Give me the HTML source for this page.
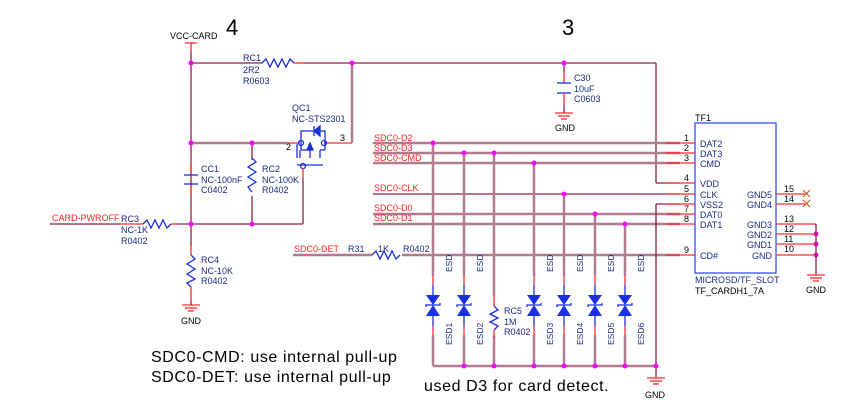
<!DOCTYPE html>
<html><head><meta charset="utf-8"><style>
body{margin:0;background:#fff}
svg{display:block}
text{font-family:"Liberation Sans",sans-serif}
.w{stroke:#8a1d4c;stroke-width:1.3;fill:none}
.wl{stroke:#b07a90;stroke-width:2.5;fill:none}
.p{stroke:#ff2a2a;stroke-width:1.3;fill:none}
.c{stroke:#1a2fe0;stroke-width:1.3;fill:none}
.lb{fill:#1a2a80;font-size:9px}
.nl{fill:#ff2020;font-size:9px}
.bk{fill:#000;font-size:9px}
.n{fill:#ff00ff}
.note{font-size:16px;letter-spacing:0.6px;fill:#000}
</style></head><body>
<svg width="862" height="409" viewBox="0 0 862 409" xmlns="http://www.w3.org/2000/svg">
<text x="226" y="35" style="font-size:22px" fill="#000">4</text>
<text x="562" y="35" style="font-size:22px" fill="#000">3</text>
<text x="170" y="39" class="bk">VCC-CARD</text>
<line x1="185" y1="43" x2="197" y2="43" class="p"/>
<line x1="191" y1="43" x2="191" y2="52" class="p"/>
<line x1="191" y1="52" x2="191" y2="282" class="w"/>
<line x1="191" y1="63" x2="262" y2="63" class="w"/>
<polyline class="c" points="262,63 266,59 270,67 274,59 278,67 282,59 286,67 290,59 294,63"/>
<line x1="294" y1="63" x2="304" y2="63" class="p"/>
<line x1="304" y1="63" x2="656" y2="63" class="w"/>
<text x="243" y="61" class="lb">RC1</text><text x="243" y="73" class="lb">2R2</text><text x="243" y="84" class="lb">R0603</text>
<line x1="352" y1="63" x2="352" y2="143" class="wl"/>
<line x1="656" y1="63" x2="656" y2="183" class="w"/>
<line x1="656" y1="183" x2="680" y2="183" class="w"/>
<line x1="564" y1="63" x2="564" y2="72" class="w"/>
<line x1="564" y1="72" x2="564" y2="83" class="p"/>
<line x1="557" y1="83" x2="571" y2="83" class="c"/><line x1="557" y1="93" x2="571" y2="93" class="c"/>
<line x1="564" y1="93" x2="564" y2="105" class="p"/><line x1="564" y1="105" x2="564" y2="113" class="w"/>
<line x1="555" y1="113" x2="573" y2="113" class="p"/><line x1="558" y1="116" x2="570" y2="116" class="p"/><line x1="561" y1="119" x2="567" y2="119" class="p"/>
<text x="555" y="131" class="bk">GND</text>
<text x="574" y="81" class="lb">C30</text><text x="574" y="92" class="lb">10uF</text><text x="574" y="102" class="lb">C0603</text>
<line x1="191" y1="143" x2="287" y2="143" class="wl"/>
<line x1="287" y1="143" x2="300" y2="143" class="p"/>
<text x="286" y="150" class="bk">2</text>
<line x1="324" y1="143" x2="352" y2="143" class="p"/>
<text x="340" y="141" class="bk">3</text>
<g class="c">
<polyline points="301,143 301,131 325,131 325,143"/>
<polyline points="314,126 314,136"/><polygon points="320,126 320,136 314,131" fill="#1a2fe0"/>
<line x1="300" y1="150" x2="300" y2="158"/><line x1="310" y1="150" x2="310" y2="158"/><line x1="320" y1="150" x2="320" y2="158"/>
<line x1="297" y1="144" x2="297" y2="158"/>
<line x1="301" y1="143" x2="301" y2="150"/><line x1="325" y1="143" x2="325" y2="150"/>
<line x1="301" y1="150" x2="310" y2="150"/><line x1="325" y1="150" x2="320" y2="150"/>
<polygon points="310,143 307,150 313,150" fill="#1a2fe0"/>
<line x1="297" y1="165" x2="323" y2="165"/>
<circle cx="301" cy="143" r="2.5"/><circle cx="324" cy="143" r="2.5"/><circle cx="303" cy="166" r="2.5"/>
</g>
<text x="292" y="111" class="lb">QC1</text><text x="292" y="122" class="lb">NC-STS2301</text>
<line x1="303" y1="168" x2="303" y2="178" class="p"/>
<line x1="303" y1="178" x2="303" y2="224" class="w"/>
<line x1="191" y1="164" x2="191" y2="174" class="p"/>
<line x1="184" y1="175" x2="198" y2="175" class="c"/><line x1="184" y1="184" x2="198" y2="184" class="c"/>
<line x1="191" y1="185" x2="191" y2="195" class="p"/>
<text x="201" y="172" class="lb">CC1</text><text x="201" y="183" class="lb">NC-100nF</text><text x="201" y="193" class="lb">C0402</text>
<line x1="252" y1="143" x2="252" y2="224" class="w"/>
<rect x="247" y="160" width="10" height="36" fill="#fff"/>
<polyline class="c" points="252,158 256,162 248,167 256,172 248,177 256,182 248,187 252,192"/>
<text x="262" y="172" class="lb">RC2</text><text x="262" y="183" class="lb">NC-100K</text><text x="262" y="193" class="lb">R0402</text>
<line x1="178" y1="224" x2="303" y2="224" class="w"/>
<line x1="50" y1="224" x2="120" y2="224" class="w"/>
<line x1="120" y1="224" x2="143" y2="224" class="p"/>
<polyline class="c" points="143,224 147,220 151,228 155,220 159,228 163,220 167,228 171,224"/>
<line x1="171" y1="224" x2="178" y2="224" class="p"/>
<text x="52" y="221" class="nl">CARD-PWROFF</text>
<text x="121" y="222" class="lb">RC3</text><text x="121" y="233" class="lb">NC-1K</text><text x="121" y="244" class="lb">R0402</text>
<rect x="186" y="246" width="10" height="44" fill="#fff"/>
<line x1="191" y1="245" x2="191" y2="255" class="p"/>
<polyline class="c" points="191,255 195,259 187,264 195,269 187,274 195,279 187,283 191,287"/>
<line x1="191" y1="287" x2="191" y2="300" class="p"/>
<line x1="182" y1="305" x2="200" y2="305" class="p"/><line x1="185" y1="308" x2="197" y2="308" class="p"/><line x1="188" y1="311" x2="194" y2="311" class="p"/>
<line x1="191" y1="300" x2="191" y2="305" class="w"/>
<text x="181" y="324" class="bk">GND</text>
<text x="201" y="263" class="lb">RC4</text><text x="201" y="274" class="lb">NC-10K</text><text x="201" y="284" class="lb">R0402</text>
<g class="wl">
<line x1="373" y1="143" x2="680" y2="143"/>
<line x1="373" y1="153" x2="680" y2="153"/>
<line x1="373" y1="163" x2="680" y2="163"/>
<line x1="373" y1="214" x2="680" y2="214"/>
<line x1="373" y1="224" x2="680" y2="224"/>
</g>
<line x1="373" y1="194" x2="680" y2="194" class="w"/>
<line x1="293" y1="255" x2="372" y2="255" class="wl"/>
<line x1="402" y1="255" x2="680" y2="255" class="wl"/>
<polyline class="c" points="372,255 376,251 380,259 384,251 388,259 392,251 396,259 400,255"/>
<text x="374" y="141" class="nl">SDC0-D2</text>
<text x="374" y="151" class="nl">SDC0-D3</text>
<text x="374" y="161" class="nl">SDC0-CMD</text>
<text x="374" y="191" class="nl">SDC0-CLK</text>
<text x="374" y="211" class="nl">SDC0-D0</text>
<text x="374" y="221" class="nl">SDC0-D1</text>
<text x="294" y="252" class="nl">SDC0-DET</text>
<text x="348" y="252" class="lb">R31</text><text x="378" y="252" class="lb">1K</text><text x="403" y="252" class="lb">R0402</text>
<g class="wl">
<line x1="433" y1="143" x2="433" y2="366"/><line x1="464" y1="153" x2="464" y2="366"/>
<line x1="494" y1="153" x2="494" y2="366"/><line x1="534" y1="163" x2="534" y2="366"/>
<line x1="564" y1="194" x2="564" y2="366"/><line x1="595" y1="214" x2="595" y2="366"/>
<line x1="625" y1="224" x2="625" y2="366"/>
<line x1="433" y1="366" x2="656" y2="366"/>
</g>
<line x1="656" y1="204" x2="656" y2="378" class="w"/>
<line x1="656" y1="204" x2="680" y2="204" class="w"/>
<line x1="647" y1="378" x2="665" y2="378" class="p"/><line x1="650" y1="381" x2="662" y2="381" class="p"/><line x1="653" y1="384" x2="659" y2="384" class="p"/>
<text x="645" y="398" class="bk">GND</text>
<g id="d">
<rect x="428" y="276" width="10" height="59" fill="#fff"/>
<line x1="433" y1="276" x2="433" y2="285" class="p"/>
<line x1="433" y1="285" x2="433" y2="295" class="c"/>
<polygon points="426,295 440,295 433,305" fill="#1a2fe0"/>
<polygon points="426,316 440,316 433,305" fill="#1a2fe0"/>
<polyline class="c" points="426,307 426,305 440,305 440,303"/>
<line x1="433" y1="316" x2="433" y2="326" class="c"/>
<line x1="433" y1="326" x2="433" y2="335" class="p"/>
</g>
<use href="#d" x="31"/><use href="#d" x="101"/><use href="#d" x="131"/><use href="#d" x="162"/><use href="#d" x="192"/>
<g class="lb" style="font-size:8.5px">
<text transform="translate(452,272) rotate(-90)">ESD</text><text transform="translate(452,345) rotate(-90)">ESD1</text>
<text transform="translate(483,272) rotate(-90)">ESD</text><text transform="translate(483,345) rotate(-90)">ESD2</text>
<text transform="translate(553,272) rotate(-90)">ESD</text><text transform="translate(553,345) rotate(-90)">ESD3</text>
<text transform="translate(583,272) rotate(-90)">ESD</text><text transform="translate(583,345) rotate(-90)">ESD4</text>
<text transform="translate(614,272) rotate(-90)">ESD</text><text transform="translate(614,345) rotate(-90)">ESD5</text>
<text transform="translate(644,272) rotate(-90)">ESD</text><text transform="translate(644,345) rotate(-90)">ESD6</text>
</g>
<rect x="489" y="296" width="10" height="40" fill="#fff"/>
<line x1="494" y1="296" x2="494" y2="306" class="p"/>
<polyline class="c" points="494,306 498,310 490,314 498,318 490,322 498,326 494,330"/>
<line x1="494" y1="330" x2="494" y2="338" class="p"/>
<text x="504" y="314" class="lb">RC5</text><text x="504" y="325" class="lb">1M</text><text x="504" y="335" class="lb">R0402</text>
<g class="n">
<circle cx="191" cy="63" r="2.5"/><circle cx="352" cy="63" r="2.5"/><circle cx="564" cy="63" r="2.5"/>
<circle cx="191" cy="143" r="2.5"/><circle cx="252" cy="143" r="2.5"/>
<circle cx="191" cy="224" r="2.5"/><circle cx="252" cy="224" r="2.5"/>
<circle cx="433" cy="143" r="2.5"/><circle cx="464" cy="153" r="2.5"/><circle cx="494" cy="153" r="2.5"/>
<circle cx="534" cy="163" r="2.5"/><circle cx="564" cy="194" r="2.5"/><circle cx="595" cy="214" r="2.5"/><circle cx="625" cy="224" r="2.5"/>
<circle cx="464" cy="366" r="2.5"/><circle cx="494" cy="366" r="2.5"/><circle cx="534" cy="366" r="2.5"/><circle cx="564" cy="366" r="2.5"/><circle cx="595" cy="366" r="2.5"/><circle cx="625" cy="366" r="2.5"/><circle cx="656" cy="366" r="2.5"/>
<circle cx="816" cy="234" r="2.5"/><circle cx="816" cy="244" r="2.5"/><circle cx="816" cy="255" r="2.5"/>
</g>
<rect x="695" y="123" width="81" height="150" fill="none" stroke="#3050ff" stroke-width="1.3"/>
<text x="695" y="121" class="bk">TF1</text>
<g class="p">
<line x1="666" y1="143" x2="695" y2="143"/><line x1="666" y1="153" x2="695" y2="153"/><line x1="666" y1="163" x2="695" y2="163"/>
<line x1="666" y1="183" x2="695" y2="183"/><line x1="666" y1="194" x2="695" y2="194"/><line x1="666" y1="204" x2="695" y2="204"/>
<line x1="666" y1="214" x2="695" y2="214"/><line x1="666" y1="224" x2="695" y2="224"/><line x1="666" y1="255" x2="695" y2="255"/>
<line x1="776" y1="194" x2="805" y2="194"/><line x1="776" y1="204" x2="805" y2="204"/>
<line x1="776" y1="224" x2="816" y2="224"/><line x1="776" y1="234" x2="816" y2="234"/><line x1="776" y1="244" x2="816" y2="244"/><line x1="776" y1="255" x2="816" y2="255"/>
<line x1="807" y1="275" x2="825" y2="275"/><line x1="810" y1="278" x2="822" y2="278"/><line x1="813" y1="281" x2="819" y2="281"/>
</g>
<line x1="816" y1="224" x2="816" y2="275" class="w"/>
<g stroke="#c06020" stroke-width="1.2"><path d="M803,190l7,7M810,190l-7,7M803,200l7,7M810,200l-7,7"/></g>
<text x="806" y="293" class="bk">GND</text>
<g class="bk">
<text x="684" y="141">1</text><text x="684" y="151">2</text><text x="684" y="161">3</text><text x="684" y="181">4</text><text x="684" y="192">5</text><text x="684" y="202">6</text><text x="684" y="212">7</text><text x="684" y="222">8</text><text x="684" y="253">9</text>
<text x="784" y="192">15</text><text x="784" y="202">14</text><text x="784" y="222">13</text><text x="784" y="232">12</text><text x="784" y="242">11</text><text x="784" y="252">10</text>
</g>
<g class="lb">
<text x="700" y="147">DAT2</text><text x="700" y="157">DAT3</text><text x="700" y="167">CMD</text><text x="700" y="187">VDD</text>
<text x="700" y="198">CLK</text><text x="700" y="208">VSS2</text><text x="700" y="218">DAT0</text><text x="700" y="228">DAT1</text><text x="700" y="259">CD#</text>
<text x="772" y="198" text-anchor="end">GND5</text><text x="772" y="208" text-anchor="end">GND4</text><text x="772" y="228" text-anchor="end">GND3</text>
<text x="772" y="238" text-anchor="end">GND2</text><text x="772" y="248" text-anchor="end">GND1</text><text x="772" y="259" text-anchor="end">GND</text>
<text x="695" y="283">MICROSD/TF_SLOT</text>
</g>
<text x="695" y="294" class="bk">TF_CARDH1_7A</text>
<text x="151" y="362" class="note">SDC0-CMD: use internal pull-up</text>
<text x="151" y="382" class="note">SDC0-DET: use internal pull-up</text>
<text x="424" y="391" class="note">used D3 for card detect.</text>
</svg>
</body></html>
